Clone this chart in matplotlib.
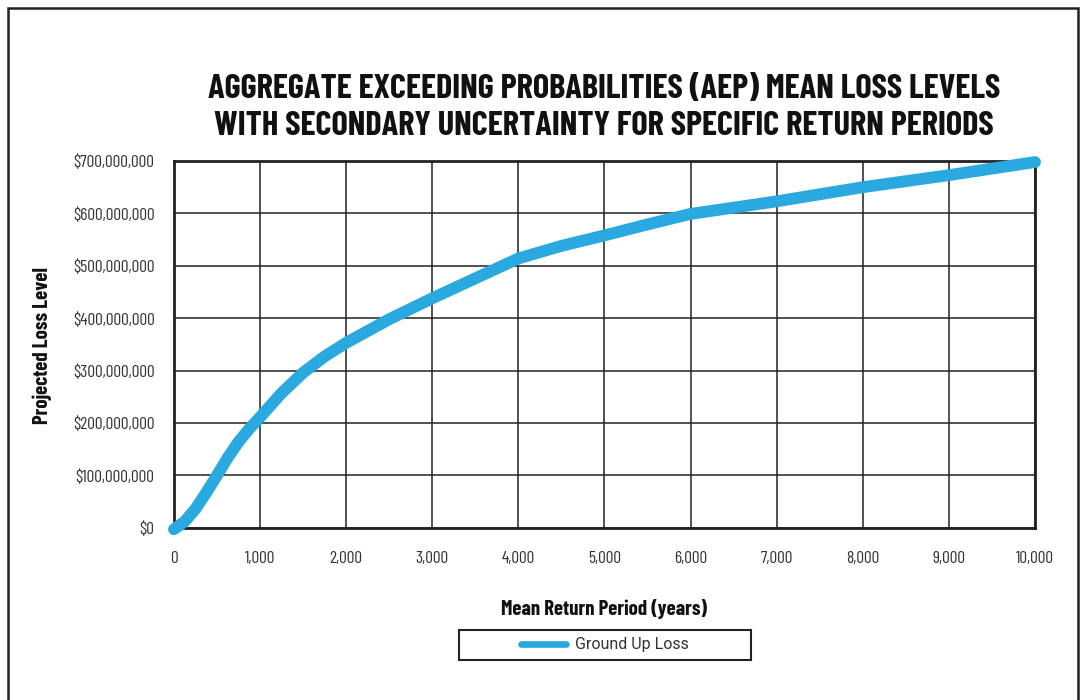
import matplotlib
matplotlib.use('Agg')
import matplotlib.pyplot as plt
import matplotlib.ticker as ticker
from matplotlib.patches import Rectangle

# ── Data ───────────────────────────────────────────────────────────────
return_period = [0, 125, 250, 375, 500, 625, 750, 875, 1000, 1250, 1500, 1750,
                 2000, 2500, 3000, 3500, 4000, 4500, 5000, 5500, 6000, 7000,
                 8000, 9000, 10000]
loss_level = [-3e6, 12e6, 36e6, 67e6, 100e6, 134e6, 164e6, 189e6, 211e6, 257e6,
              296e6, 327e6, 353e6, 398e6, 438e6, 476e6, 514e6, 538e6, 558e6,
              579e6, 599e6, 623e6, 650e6, 673e6, 698e6]
x_ticks = [0, 1000, 2000, 3000, 4000, 5000, 6000, 7000, 8000, 9000, 10000]
y_ticks = [0, 100e6, 200e6, 300e6, 400e6, 500e6, 600e6, 700e6]

LINE_COLOR = '#29A9E0'
INK = '#222222'
COND = ['Barlow Condensed', 'DejaVu Sans']

fig = plt.figure(figsize=(10.84, 7.0), dpi=100)
ax = fig.add_axes([0.1605, 0.2461, 0.7943, 0.5239])

ax.plot(return_period, loss_level, color=LINE_COLOR, linewidth=8.5,
        solid_capstyle='round', solid_joinstyle='round', clip_on=False,
        zorder=4, label='Ground Up Loss')

ax.set_xlim(0, 10000)
ax.set_ylim(0, 700e6)
ax.set_xticks(x_ticks)
ax.set_yticks(y_ticks)
ax.xaxis.set_major_formatter(ticker.FuncFormatter(lambda v, p: f'{v:,.0f}'))
ax.yaxis.set_major_formatter(ticker.FuncFormatter(lambda v, p: f'${v:,.0f}'))
ax.tick_params(length=0, labelsize=12.5, labelcolor='#333333')
ax.tick_params(axis='x', pad=17)
ax.tick_params(axis='y', pad=14)
for lab in ax.get_xticklabels() + ax.get_yticklabels():
    lab.set_family(COND)

ax.grid(True, color=INK, linewidth=1.1, zorder=0)
ax.set_axisbelow(True)
for sp in ax.spines.values():
    sp.set_color(INK)
    sp.set_linewidth(2)

ax.set_xlabel('Mean Return Period (years)', fontsize=15, fontweight='bold',
              family=COND, color='#111111', va='center')
ax.xaxis.set_label_coords(0.5, -0.222)
ax.set_ylabel('Projected Loss Level', fontsize=15, fontweight='bold',
              family=COND, color='#111111', va='center')
ax.yaxis.set_label_coords(-0.1535, 0.498)

fig.text(0.557, 0.846, 'AGGREGATE EXCEEDING PROBABILITIES (AEP) MEAN LOSS LEVELS\n'
         'WITH SECONDARY UNCERTAINTY FOR SPECIFIC RETURN PERIODS',
         ha='center', va='center', fontsize=24.8, fontweight='bold',
         linespacing=1.3, color='#111111', family=COND)

leg = fig.legend(loc='center', bbox_to_anchor=(0.558, 0.0786), frameon=False,
                 handlelength=2.8, handletextpad=0.55,
                 prop={'family': 'Roboto', 'size': 11.5})
leg.get_lines()[0].set_linewidth(4.8)
for t in leg.get_texts():
    t.set_color('#333333')

# legend box and outer frame
fig.patches.append(Rectangle((459 / 1084, 1 - 660 / 700), 292 / 1084, 30 / 700,
                             transform=fig.transFigure, fill=False,
                             edgecolor=INK, linewidth=1.5))
fig.patches.append(Rectangle((8 / 1084, -0.05), 1070 / 1084, 1.05 - 8 / 700,
                             transform=fig.transFigure, fill=False,
                             edgecolor=INK, linewidth=1.8))

fig.savefig('out.png', dpi=100)
